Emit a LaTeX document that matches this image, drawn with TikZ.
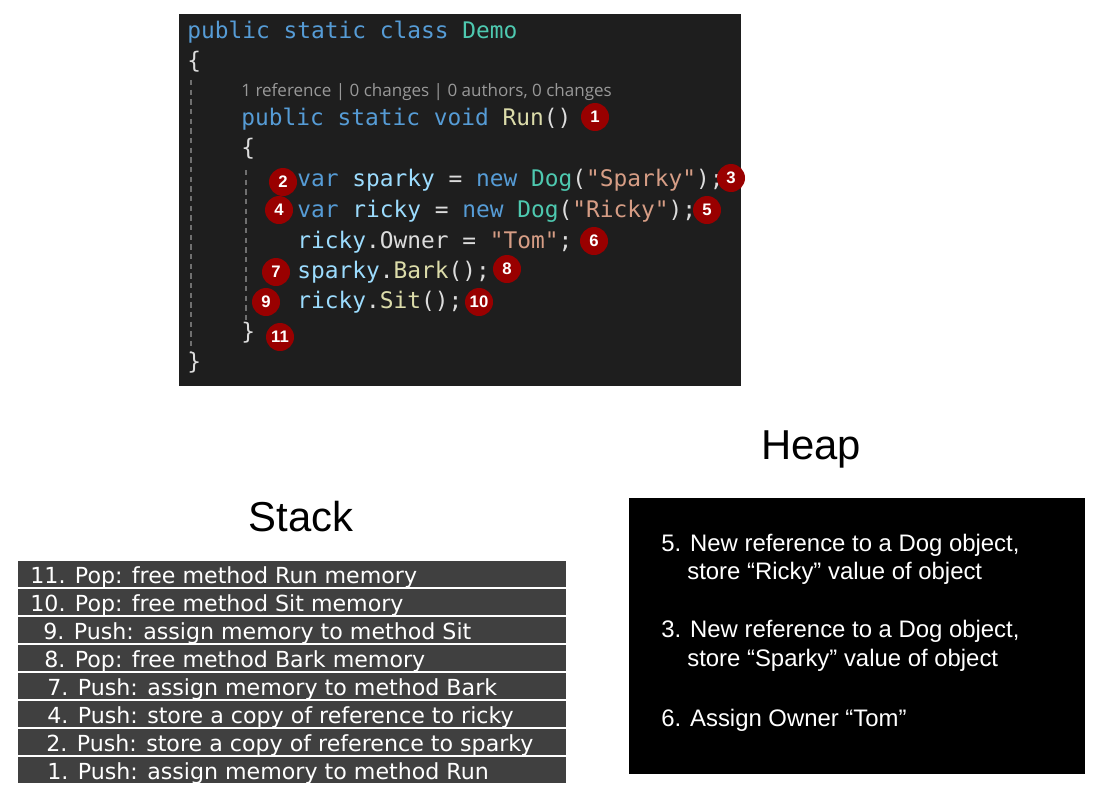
\documentclass[tikz,border=0pt]{standalone}
\usepackage{fontspec}
\setmainfont{Liberation Sans}
\newfontfamily\codefont{DejaVu Sans Mono}
\newfontfamily\stackfont{DejaVu Sans}
\newfontfamily\lensfont{Open Sans}
\usetikzlibrary{positioning}
\definecolor{editorbg}{HTML}{1E1E1E}
\definecolor{codekw}{HTML}{569CD6}
\definecolor{codetype}{HTML}{4EC9B0}
\definecolor{codestr}{HTML}{D69D85}
\definecolor{codevar}{HTML}{9CDCFE}
\definecolor{codefn}{HTML}{DCDCAA}
\definecolor{codepunct}{HTML}{DCDCDC}
\definecolor{lensgray}{HTML}{999999}
\definecolor{guidegray}{HTML}{707070}
\definecolor{badgered}{HTML}{990000}
\definecolor{stackgray}{HTML}{404040}
\newcommand{\kw}[1]{\textcolor{codekw}{#1}}
\newcommand{\ty}[1]{\textcolor{codetype}{#1}}
\newcommand{\st}[1]{\textcolor{codestr}{#1}}
\newcommand{\vr}[1]{\textcolor{codevar}{#1}}
\newcommand{\fn}[1]{\textcolor{codefn}{#1}}

\begin{document}
\begin{tikzpicture}[
    x=0.02cm, y=-0.02cm,
    codeline/.style={anchor=base west, inner sep=0pt, text=codepunct, font=\codefont\fontsize{13}{15}\selectfont},
    badge/.style={circle, fill=badgered, text=white, inner sep=0pt, minimum size=0.56cm, font=\bfseries\fontsize{9.5}{11}\selectfont},
    guide/.style={draw=guidegray, dash pattern=on 3pt off 2.5pt, line width=0.6pt},
    stackrow/.style={fill=stackgray, anchor=north west, inner sep=0pt, minimum width=10.96cm, minimum height=0.52cm},
    rowtext/.style={anchor=west, inner sep=0pt, text=white, font=\stackfont\fontsize{12.6}{14}\selectfont},
    heaptext/.style={anchor=base west, inner sep=0pt, text=white, font=\fontsize{13.6}{16}\selectfont},
    title/.style={font=\fontsize{23.8}{28}\selectfont}
]
    \useasboundingbox (0,0) rectangle (1097,798);

    % Code editor
    \fill[editorbg] (179,14) rectangle (741,386);
    \draw[guide] (191,80) -- (191,352);
    \draw[guide] (246,170) -- (246,322);

    \node[codeline] (cls) at (187,38) {\kw{public static class} \ty{Demo}};
    \node[codeline] (clsopen) at (187,68) {\{};
    \node[anchor=base west, inner sep=0pt, text=lensgray, font=\lensfont\fontsize{9.7}{11}\selectfont] (lens) at (241,96)
        {1 reference | 0 changes | 0 authors, 0 changes};
    \node[codeline] (run) at (241,125) {\kw{public static void} \fn{Run}()};
    \node[codeline] (runopen) at (241,155) {\{};
    \node[codeline] (sparky) at (297,186) {\kw{var} \vr{sparky} = \kw{new} \ty{Dog}(\st{"Sparky"});};
    \node[codeline] (ricky) at (297,217) {\kw{var} \vr{ricky} = \kw{new} \ty{Dog}(\st{"Ricky"});};
    \node[codeline] (owner) at (297,248) {\vr{ricky}.Owner = \st{"Tom"};};
    \node[codeline] (bark) at (297,278) {\vr{sparky}.\fn{Bark}();};
    \node[codeline] (sit) at (297,308) {\vr{ricky}.\fn{Sit}();};
    \node[codeline] (runclose) at (241,339) {\}};
    \node[codeline] (clsclose) at (187,369) {\}};

    % Step markers
    \foreach \n/\bx/\by in {1/595/117, 2/283/182, 3/731/178, 4/279/210, 5/707/210, 6/594/241,
                            7/276/272, 8/507/269, 9/266/302, 10/479/302, 11/280/337}
        \node[badge] (b\n) at (\bx,\by) {\n};

    % Stack
    \node[title] (stacktitle) at (301,517) {Stack};
    \foreach \n/\dx/\txt [count=\i from 0] in {
        11/30/Pop: free method Run memory,
        10/30/Pop: free method Sit memory,
        9/43/Push: assign memory to method Sit,
        8/44/Pop: free method Bark memory,
        7/47/Push: assign memory to method Bark,
        4/47/Push: store a copy of reference to ricky,
        2/46/Push: store a copy of reference to sparky,
        1/47/Push: assign memory to method Run}
    {
        \node[stackrow] (s\n) at (18,561+28*\i) {};
        \node[rowtext] (t\n) at (\dx,577+28*\i) {\n. \txt};
    }

    % Heap
    \node[title] (heaptitle) at (811,449) {Heap};
    \fill[black] (629,498) rectangle (1085,774);
    \node[heaptext] (h5a) at (661,551) {5. New reference to a Dog object,};
    \node[heaptext] (h5b) at (687,579) {store “Ricky” value of object};
    \node[heaptext] (h3a) at (661,637) {3. New reference to a Dog object,};
    \node[heaptext] (h3b) at (687,666) {store “Sparky” value of object};
    \node[heaptext] (h6) at (661,726) {6. Assign Owner “Tom”};
\end{tikzpicture}
\end{document}
